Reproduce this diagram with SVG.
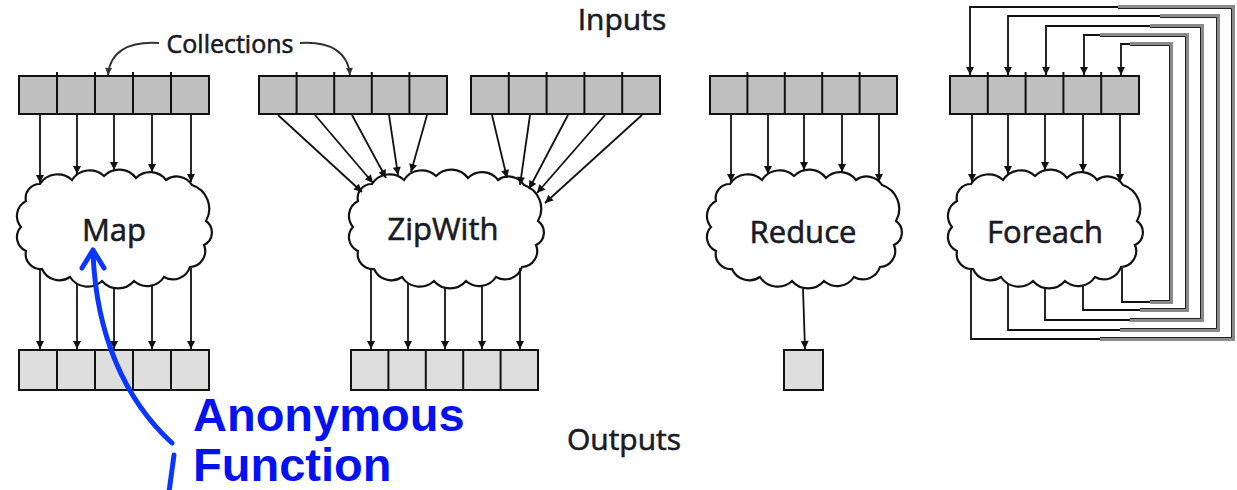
<svg xmlns="http://www.w3.org/2000/svg" xmlns:xlink="http://www.w3.org/1999/xlink" width="1237" height="490" viewBox="0 0 1237 490">
  <style>
    .in { fill: #c0c0c0; stroke: #111; stroke-width: 2; }
    .out { fill: #dedede; stroke: #111; stroke-width: 2; }
    .div { stroke: #111; stroke-width: 2; fill: none; }
    .cloud { fill: #fff; stroke: #111; stroke-width: 2.2; }
    .lbl { font-family: "Open Sans", "Liberation Sans", sans-serif; fill: #1a1a26; stroke: #1a1a26; stroke-width: 0.6; text-anchor: middle; }
    .op { font-size: 31px; }
    .cap { font-size: 30px; }
    .arr { stroke: #111; stroke-width: 1.8; fill: none; marker-end: url(#ah); }
    .loop { stroke: #111; stroke-width: 1.8; fill: none; }
    .loopg { stroke: #8a8a8a; stroke-width: 4; fill: none; }
    .loopk { stroke: #222; stroke-width: 1; fill: none; }
    .note { font-family: "Liberation Sans", Arial, sans-serif; font-weight: bold; font-size: 47px; fill: #0412f0; }
    .blue { stroke: #0a36ff; stroke-width: 5; fill: none; stroke-linecap: round; stroke-linejoin: round; }
  </style>
  <defs>
    <marker id="ah" viewBox="0 0 10 10" refX="10" refY="5" markerWidth="9" markerHeight="8" markerUnits="userSpaceOnUse" orient="auto">
      <path d="M0,0 L10,5 L0,10 z" fill="#111"/>
    </marker>
    <marker id="ahg" viewBox="0 0 10 10" refX="10" refY="5" markerWidth="8" markerHeight="7" markerUnits="userSpaceOnUse" orient="auto">
      <path d="M0,0 L10,5 L0,10 z" fill="#333"/>
    </marker>
    <!-- cloud outline centred on the origin, about 198 x 118 -->
    <path id="cloudShape" class="cloud" d="M92,-10 A14,14 0 0 1 90,14 A16,16 0 0 1 76,36 A18,18 0 0 1 50,46 A20,20 0 0 1 20,50 A21,21 0 0 1 -12,50 A21,21 0 0 1 -44,46 A19,19 0 0 1 -72,38 A15,15 0 0 1 -88,20 A15,15 0 0 1 -93,-4 A17,17 0 0 1 -88,-30 A14,14 0 0 1 -74,-47 A21,21 0 0 1 -42,-51 A21,21 0 0 1 -10,-55 A21,21 0 0 1 22,-53 A20,20 0 0 1 52,-51 A18,18 0 0 1 78,-46 A25,25 0 0 1 92,-10 Z"/>
  </defs>

  <rect width="1237" height="490" fill="#fff"/>

  <!-- headings -->
  <text class="lbl cap" x="622" y="30">Inputs</text>
  <text class="lbl cap" x="624" y="450">Outputs</text>

  <!-- collection label with its two pointers -->
  <g id="collections-label">
    <text class="lbl" x="230" y="53" font-size="25" stroke-width="0.4">Collections</text>
    <path d="M159,43 C128,41 110,52 108,75" stroke="#333" stroke-width="1.8" fill="none" marker-end="url(#ahg)"/>
    <path d="M300,43 C330,41 348,52 350,75" stroke="#333" stroke-width="1.8" fill="none" marker-end="url(#ahg)"/>
  </g>

  <!-- Map -->
  <g id="map-in">
    <rect class="in" x="19" y="76" width="190" height="38"/>
    <path class="div" d="M57,72 V114 M95,72 V114 M133,72 V114 M171,72 V114"/>
  </g>
  <g id="map">
    <use xlink:href="#cloudShape" href="#cloudShape" transform="translate(114,231)"/>
    <text class="lbl op" x="114" y="241">Map</text>
  </g>
  <g id="map-out">
    <rect class="out" x="19" y="350" width="190" height="40"/>
    <path class="div" d="M57,350 V390 M95,350 V390 M133,350 V390 M171,350 V390"/>
  </g>

  <!-- ZipWith -->
  <g id="zip-in-a">
    <rect class="in" x="259" y="76" width="188" height="38"/>
    <path class="div" d="M296.6,72 V114 M334.2,72 V114 M371.8,72 V114 M409.4,72 V114"/>
  </g>
  <g id="zip-in-b">
    <rect class="in" x="471" y="76" width="189" height="38"/>
    <path class="div" d="M508.8,72 V114 M546.6,72 V114 M584.4,72 V114 M622.2,72 V114"/>
  </g>
  <g id="zipwith">
    <use xlink:href="#cloudShape" href="#cloudShape" transform="translate(446,231)"/>
    <text class="lbl op" x="443" y="240">ZipWith</text>
  </g>
  <g id="zip-out">
    <rect class="out" x="351" y="350" width="187" height="40"/>
    <path class="div" d="M388.4,350 V390 M425.8,350 V390 M463.2,350 V390 M500.6,350 V390"/>
  </g>

  <!-- Reduce -->
  <g id="reduce-in">
    <rect class="in" x="710" y="76" width="187" height="38"/>
    <path class="div" d="M747.4,72 V114 M784.8,72 V114 M822.2,72 V114 M859.6,72 V114"/>
  </g>
  <g id="reduce">
    <use xlink:href="#cloudShape" href="#cloudShape" transform="translate(804,231)"/>
    <text class="lbl op" x="803" y="243">Reduce</text>
  </g>
  <g id="reduce-out">
    <rect class="out" x="784" y="350" width="39" height="40"/>
  </g>

  <!-- Foreach -->
  <g id="foreach-in">
    <rect class="in" x="950" y="76" width="189" height="38"/>
    <path class="div" d="M987.8,72 V114 M1025.6,72 V114 M1063.4,72 V114 M1101.2,72 V114"/>
  </g>
  <g id="foreach">
    <use xlink:href="#cloudShape" href="#cloudShape" transform="translate(1045,231)"/>
    <text class="lbl op" x="1045" y="243">Foreach</text>
  </g>

  <!-- connectors -->
  <g id="connectors">
    <!-- Map -->
    <path class="arr" d="M40,115 V183"/>
    <path class="arr" d="M77,115 V174"/>
    <path class="arr" d="M114,115 V170"/>
    <path class="arr" d="M152,115 V172"/>
    <path class="arr" d="M191,115 V182"/>
    <path class="arr" d="M40,269 V349"/>
    <path class="arr" d="M77,284 V349"/>
    <path class="arr" d="M114,288 V349"/>
    <path class="arr" d="M152,286 V349"/>
    <path class="arr" d="M191,268 V349"/>

    <!-- ZipWith -->
    <path class="arr" d="M278,115 L362,192"/>
    <path class="arr" d="M315,115 L373,183"/>
    <path class="arr" d="M352,115 L386,178"/>
    <path class="arr" d="M389,115 L398,175"/>
    <path class="arr" d="M427,115 L411,172"/>
    <path class="arr" d="M492,115 L507,178"/>
    <path class="arr" d="M530,115 L520,185"/>
    <path class="arr" d="M568,115 L529,189"/>
    <path class="arr" d="M605,115 L537,193"/>
    <path class="arr" d="M642,115 L545,203"/>
    <path class="arr" d="M371,269 V349"/>
    <path class="arr" d="M408,284 V349"/>
    <path class="arr" d="M445,288 V349"/>
    <path class="arr" d="M482,286 V349"/>
    <path class="arr" d="M520,268 V349"/>

    <!-- Reduce -->
    <path class="arr" d="M731,115 V182"/>
    <path class="arr" d="M768,115 V174"/>
    <path class="arr" d="M804,115 V170"/>
    <path class="arr" d="M842,115 V172"/>
    <path class="arr" d="M879,115 V182"/>
    <path class="arr" d="M803,289 L805,349" stroke="#555" stroke-width="2.4"/>

    <!-- Foreach feed-in -->
    <path class="arr" d="M972,115 V182"/>
    <path class="arr" d="M1008,115 V174"/>
    <path class="arr" d="M1045,115 V170"/>
    <path class="arr" d="M1083,115 V172"/>
    <path class="arr" d="M1120,115 V182"/>

    <!-- Foreach feedback loops: grey band on the far side -->
    <path class="loopg" d="M1100,339 H1233 V7 H1118"/>
    <path class="loopg" d="M1120,330 H1218 V16 H1160"/>
    <path class="loopg" d="M1130,320 H1202 V26 H1150"/>
    <path class="loopg" d="M1140,310 H1187 V35 H1100"/>
    <path class="loopg" d="M1150,302 H1171 V44 H1130"/>
    <path class="loopk" d="M1100,337.5 H1231.5 V8.5 H1118"/>
    <path class="loopk" d="M1120,328.5 H1216.5 V17.5 H1160"/>
    <path class="loopk" d="M1130,318.5 H1200.5 V27.5 H1150"/>
    <path class="loopk" d="M1140,308.5 H1185.5 V36.5 H1100"/>
    <path class="loopk" d="M1150,300.5 H1169.5 V45.5 H1130"/>
    <path class="loop" d="M971,269 V339 H1100 M1118,7 H970 V75" marker-end="url(#ah)"/>
    <path class="loop" d="M1008,284 V330 H1120 M1160,16 H1008 V75" marker-end="url(#ah)"/>
    <path class="loop" d="M1045,288 V320 H1130 M1150,26 H1046 V75" marker-end="url(#ah)"/>
    <path class="loop" d="M1083,286 V310 H1140 M1100,35 H1084 V75" marker-end="url(#ah)"/>
    <path class="loop" d="M1122,268 V302 H1150 M1130,44 H1121 V75" marker-end="url(#ah)"/>
  </g>

  <!-- anonymous function callout -->
  <g id="anonymous-function">
    <path class="blue" d="M172,443 C125,400 96,335 93,252"/>
    <path class="blue" d="M82,268 L93,250 L104,268"/>
    <path class="blue" d="M174,455 L169,492"/>
    <text class="note" x="193" y="431">Anonymous</text>
    <text class="note" x="193" y="481">Function</text>
  </g>
</svg>
